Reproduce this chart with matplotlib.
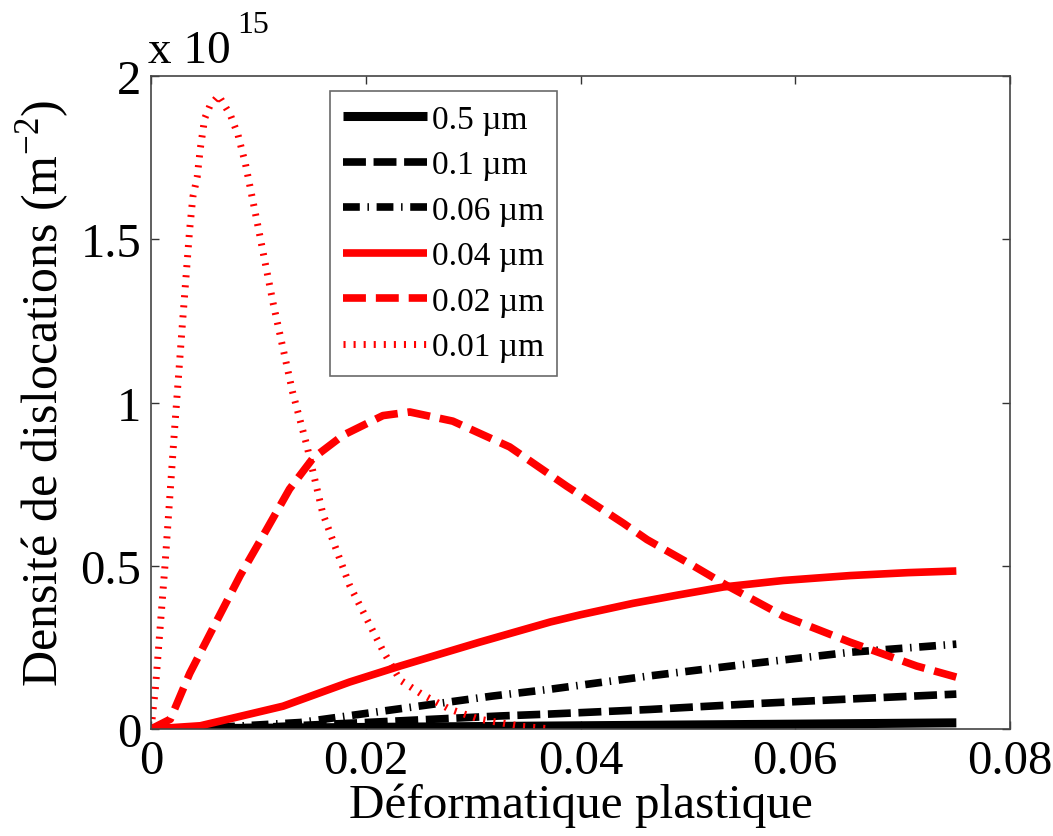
import numpy as np
import matplotlib
matplotlib.use("Agg")
import matplotlib.pyplot as plt

plt.rcParams['font.family'] = ['Liberation Serif', 'DejaVu Serif']
plt.rcParams['mathtext.fontset'] = 'custom'
plt.rcParams['mathtext.rm'] = 'Liberation Serif'

# plastic strain (x) and dislocation density in units of 1e15 m^-2 (y)
labels = ["0.5 µm", "0.1 µm", "0.06 µm", "0.04 µm", "0.02 µm", "0.01 µm"]

x_05 = [0, 0.02, 0.04, 0.06, 0.075]
y_05 = [0, 0.005, 0.010, 0.015, 0.019]

x_01 = [0, 0.01, 0.02, 0.0325, 0.0372, 0.0465, 0.0558, 0.0651, 0.075]
y_01 = [0, 0.005, 0.02, 0.04, 0.046, 0.06, 0.077, 0.092, 0.107]

x_006 = [0, 0.005, 0.0139, 0.0216, 0.0318, 0.0372, 0.0465, 0.0558, 0.0651, 0.075]
y_006 = [0, 0.003, 0.02, 0.055, 0.101, 0.122, 0.163, 0.20, 0.235, 0.26]

x_004 = [0, 0.0046, 0.0123, 0.0185, 0.0232, 0.0306, 0.0372, 0.04, 0.0449,
         0.049, 0.0533, 0.0589, 0.0651, 0.0705, 0.075]
y_004 = [0, 0.01, 0.07, 0.144, 0.193, 0.266, 0.328, 0.35, 0.385,
         0.41, 0.435, 0.455, 0.47, 0.479, 0.484]

x_002 = [0, 0.0018, 0.0036, 0.0061, 0.0083, 0.0104, 0.0129, 0.0151, 0.0179,
         0.0216, 0.0241, 0.0281, 0.0334, 0.0387, 0.044, 0.0462, 0.0505,
         0.0536, 0.0589, 0.0651, 0.0713, 0.075]
y_002 = [0, 0.03, 0.17, 0.33, 0.47, 0.59, 0.735, 0.83, 0.90,
         0.96, 0.971, 0.943, 0.864, 0.744, 0.63, 0.58, 0.50,
         0.44, 0.346, 0.266, 0.193, 0.159]

x_001 = [0, 0.0004, 0.0013, 0.0022, 0.0029, 0.0036, 0.0039, 0.0043, 0.0046,
         0.005, 0.0055, 0.0063, 0.0074, 0.0081, 0.0088, 0.0099, 0.0114,
         0.0132, 0.0145, 0.016, 0.0185, 0.0216, 0.0232, 0.0252, 0.0278,
         0.0306, 0.0346, 0.0374]
y_001 = [0, 0.12, 0.50, 0.92, 1.23, 1.53, 1.63, 1.69, 1.78,
         1.87, 1.91, 1.94, 1.88, 1.82, 1.73, 1.55, 1.30,
         1.03, 0.87, 0.66, 0.44, 0.24, 0.15, 0.107, 0.061,
         0.03, 0.008, 0.0]

fig = plt.figure(figsize=(10.53, 8.37), dpi=100)
ax = fig.add_axes([0.1434, 0.1278, 0.8158, 0.7802])

lw = 5.5
ax.plot(x_05, y_05, color="k", lw=lw + 1, label=labels[0], solid_capstyle="butt")
ax.plot(x_01, y_01, color="k", lw=lw, dashes=(3.0, 1.0), dash_capstyle="butt", label=labels[1])
ax.plot(x_006, y_006, color="k", lw=lw, dashes=(2.2, 1.0, 0.2, 1.0), dash_capstyle="butt", label=labels[2])
ax.plot(x_004, y_004, color="r", lw=lw, label=labels[3], solid_capstyle="butt")
ax.plot(x_002, y_002, color="r", lw=lw, dashes=(3.0, 1.3), dash_capstyle="butt", label=labels[4])
ax.plot(x_001, y_001, color="r", lw=5, dashes=(0.3, 1.15), dash_capstyle="butt", label=labels[5])

ax.set_xlim(0, 0.08)
ax.set_ylim(0, 2)
ax.set_xticks([0, 0.02, 0.04, 0.06, 0.08])
ax.set_xticklabels(["0", "0.02", "0.04", "0.06", "0.08"])
ax.set_yticks([0, 0.5, 1, 1.5, 2])
ax.set_yticklabels(["0", "0.5", "1", "1.5", "2"])
ax.tick_params(direction="in", length=6, width=1, top=True, right=True,
               labelsize=35, pad=7, color="#333333")
for s in ax.spines.values():
    s.set_color("#444444")
    s.set_linewidth(1.2)

ax.set_xlabel("Déformatique plastique", fontsize=35.5, labelpad=0)
ax.set_ylabel(r"Densité de dislocations (m$^{\mathregular{-2}}$)", fontsize=36)
ax.yaxis.set_label_coords(-0.092, 0.515)

fig.text(0.1405, 0.925, "x 10", fontsize=34, ha="left", va="baseline")
fig.text(0.225, 0.961, "15", fontsize=23, ha="left", va="baseline")

leg = ax.legend(loc="upper left", bbox_to_anchor=(0.3134, 0.890),
                bbox_transform=fig.transFigure, fontsize=24, frameon=True,
                fancybox=False, handlelength=2.5, handletextpad=0.15,
                labelspacing=0.45, borderpad=0.4, borderaxespad=0)
leg.get_frame().set_edgecolor("#444444")
leg.get_frame().set_linewidth(1.2)

fig.savefig("out.png", dpi=100)
